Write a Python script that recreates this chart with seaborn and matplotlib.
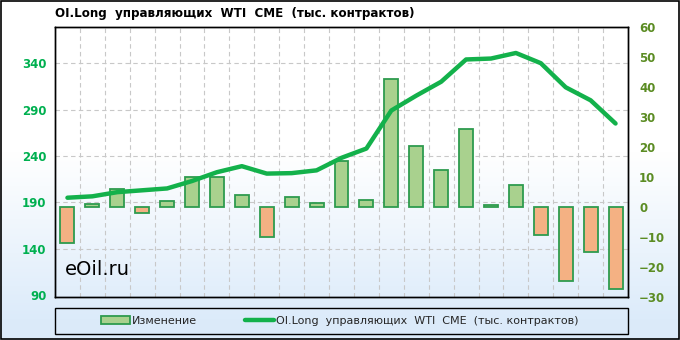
import numpy as np
import pandas as pd
import matplotlib
matplotlib.use("Agg")
import matplotlib.pyplot as plt
import seaborn as sns
from matplotlib.lines import Line2D
from matplotlib.patches import Patch, Rectangle
from matplotlib.transforms import blended_transform_factory

# ---- data ----
dates = ["18.12.2018", "24.12.2018", "31.12.2018", "08.01.2019", "15.01.2019", "22.01.2019",
         "29.01.2019", "05.02.2019", "12.02.2019", "19.02.2019", "26.02.2019", "05.03.2019",
         "12.03.2019", "19.03.2019", "26.03.2019", "02.04.2019", "09.04.2019", "16.04.2019",
         "23.04.2019", "30.04.2019", "07.05.2019", "14.05.2019", "21.05.2019"]
change = [-12, 1, 6, -2, 2, 10, 10, 4, -10, 3.5, 1.5, 15.3, 2.3, 42.8, 20.5, 12.2, 26,
          0.8, 7.2, -9.2, -24.8, -15, -27.4]
oi_long = [195, 196.5, 201, 203, 205, 213, 222.5, 229, 221, 221.5, 224.5, 238, 248,
           289, 305, 320, 344, 345, 351, 340, 314, 300, 275]
left_ticks = [90, 140, 190, 240, 290, 340]
right_ticks = [-30, -20, -10, 0, 10, 20, 30, 40, 50, 60]
title = "OI.Long  управляющих  WTI  CME  (тыс. контрактов)"
bar_label = "Изменение"
line_label = "OI.Long  управляющих  WTI  CME  (тыс. контрактов)"

df = pd.DataFrame({"date": dates, "change": change, "oi": oi_long})
df["pos"] = np.arange(len(df))
df["sign"] = np.where(df["change"] >= 0, "pos", "neg")

sns.set_theme(style="white")
plt.rcParams["font.family"] = ["DejaVu Sans"]

fig = plt.figure(figsize=(6.8, 3.4), dpi=100)

# background gradient
bg = fig.add_axes([0, 0, 1, 1], zorder=-10)
grad = np.linspace(0, 1, 256)
top = np.array([1.0, 1.0, 1.0])
bot = np.array([0.86, 0.92, 0.98])
w = np.clip((grad - 0.45) / 0.5, 0, 1)[:, None]
img = (top * (1 - w) + bot * w)[:, None, :]
img = np.repeat(img, 2, axis=1)
bg.imshow(img, aspect="auto", extent=[0, 1, 0, 1], origin="upper")
bg.set_axis_off()
fig.patches.append(Rectangle((0.001, 0.002), 0.997, 0.995, transform=fig.transFigure,
                             fill=False, edgecolor="black", linewidth=1.2))

ax = fig.add_axes([55 / 680, 1 - 297 / 340, 573 / 680, 270 / 340])
ax.patch.set_alpha(0)
ax2 = ax.twinx()

pos_c = "#A9D18E"
neg_c = "#F4B183"
edge_c = "#2E9B4E"

sns.barplot(data=df, x="pos", y="change", hue="sign",
            palette={"pos": pos_c, "neg": neg_c}, dodge=False, legend=False,
            saturation=1, width=0.56, edgecolor=edge_c, linewidth=1.3, ax=ax, zorder=3)
ax.set_xlim(-0.5, len(df) - 0.5)
ax.set_ylim(-30, 60)
ax.set_yticks(right_ticks)

sns.lineplot(data=df, x="pos", y="oi", color="#13B14B", linewidth=3.2, ax=ax2,
             solid_joinstyle="round", solid_capstyle="round", zorder=5)
ax2.set_ylim(88, 379)
ax2.set_yticks(left_ticks)
ax2.set_xlim(-0.5, len(df) - 0.5)

# swap sides: bar scale on right, line scale on left
ax.yaxis.tick_right()
ax.yaxis.set_label_position("right")
ax2.yaxis.tick_left()
ax2.yaxis.set_label_position("left")

# gridlines below the bars
grid_kw = dict(color="#C8C8C8", linewidth=0.8, linestyle=(0, (4, 3)), zorder=1)
htr = blended_transform_factory(ax.transAxes, ax2.transData)
for v in left_ticks[1:]:
    ax.add_line(Line2D([0, 1], [v, v], transform=htr, **grid_kw))
for i in range(len(df) - 1):
    ax.axvline(i + 0.5, **grid_kw)

for a in (ax, ax2):
    a.set_xlabel("")
    a.set_ylabel("")
    for s in a.spines.values():
        s.set_color("black")
        s.set_linewidth(1.0)
    a.tick_params(length=0)

ax.set_xticks(df["pos"][::2])
ax.set_xticklabels(df["date"][::2], fontsize=5.6, fontweight="bold", color="#1a1a1a")
ax.tick_params(axis="x", pad=3)
ax2.set_xticks([])
ax.tick_params(axis="y", labelsize=8.5, labelcolor="#5B8C23", pad=8)
ax2.tick_params(axis="y", labelsize=8.5, labelcolor="#00B050", pad=6)
for t in ax.get_yticklabels() + ax2.get_yticklabels():
    t.set_fontweight("bold")

ax.text(10 / 573, 22 / 270, "eOil.ru", transform=ax.transAxes, fontsize=14,
        color="black", zorder=6)

fig.text(55 / 680, 1 - 13 / 340, title, fontsize=8.6, fontweight="bold",
         va="center", ha="left", color="black")

# legend
fig.patches.append(Rectangle((55 / 680, 1 - 334 / 340), 573 / 680, 26 / 340,
                             transform=fig.transFigure, facecolor="none",
                             edgecolor="black", linewidth=1.0))
handles = [Patch(facecolor=pos_c, edgecolor=edge_c, linewidth=1.3, label=bar_label),
           Line2D([0], [0], color="#13B14B", linewidth=3.2, label=line_label)]
fig.legend(handles=handles, loc="center", bbox_to_anchor=(340 / 680, 1 - 321 / 340),
           ncol=2, frameon=False, fontsize=8, handlelength=2.6, handleheight=0.7,
           columnspacing=4.3, handletextpad=0.2)

fig.savefig("out.png", dpi=100)
